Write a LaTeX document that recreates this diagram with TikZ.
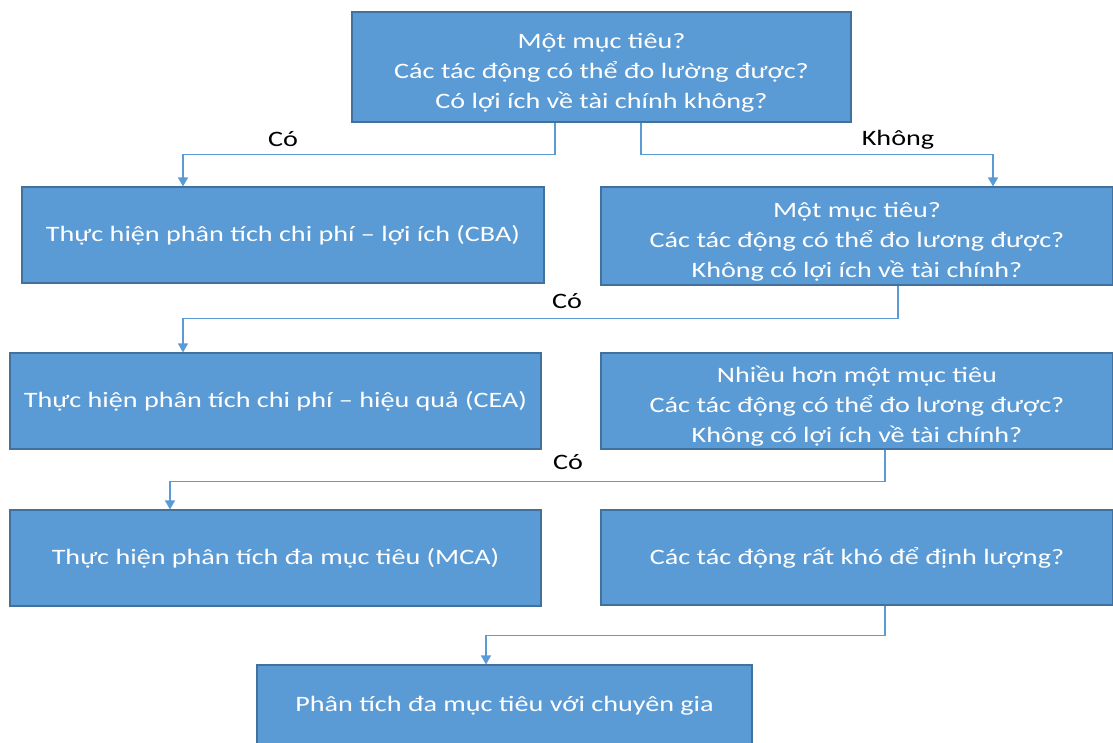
\documentclass[tikz,border=0pt]{standalone}
\usepackage{fontspec}
\setmainfont{Carlito}[FakeStretch=1.28]
\usetikzlibrary{arrows.meta}
\definecolor{boxfill}{HTML}{5B9BD5}
\definecolor{boxline}{HTML}{41719C}
\newcommand\topgap{\rule{0pt}{27pt}}
\tikzset{
  box/.style={rectangle,draw=boxline,line width=1.2pt,fill=boxfill,text=white,
    align=center,inner sep=0pt,font=\fontsize{22}{30}\selectfont},
  link/.style={draw=boxfill,line width=1.3pt,-{Triangle[width=10pt,length=9pt]}},
  answer/.style={font=\fontsize{22}{30}\selectfont,text=black}
}
\begin{document}
\begin{tikzpicture}[x=1pt,y=-1pt]
  \fill[white] (0,0) rectangle (1113,742);
  \clip (0,0) rectangle (1113,742);
%%
  % Node: q1
  \node[box,minimum width=499pt,minimum height=110pt] (q1) at (601.5,67)
    {\topgap Một mục tiêu?\\Các tác động có thể đo lường được?\\Có lợi ích về tài chính không?};
  % Node: cba
  \node[box,minimum width=522pt,minimum height=96pt] (cba) at (283,235)
    {Thực hiện phân tích chi phí – lợi ích (CBA)};
  % Node: q2
  \node[box,minimum width=512pt,minimum height=98pt] (q2) at (857,236)
    {\topgap Một mục tiêu?\\Các tác động có thể đo lương được?\\Không có lợi ích về tài chính?};
  % Node: cea
  \node[box,minimum width=531pt,minimum height=96pt] (cea) at (275.5,401)
    {Thực hiện phân tích chi phí – hiệu quả (CEA)};
  % Node: q3
  \node[box,minimum width=512pt,minimum height=96pt] (q3) at (857,401)
    {\topgap Nhiều hơn một mục tiêu\\Các tác động có thể đo lương được?\\Không có lợi ích về tài chính?};
  % Node: mca
  \node[box,minimum width=531pt,minimum height=96pt] (mca) at (275.5,558)
    {Thực hiện phân tích đa mục tiêu (MCA)};
  % Node: q4
  \node[box,minimum width=512pt,minimum height=95pt] (q4) at (857,557.5)
    {Các tác động rất khó để định lượng?};
  % Node: expert
  \node[box,minimum width=495pt,minimum height=82pt] (expert) at (504.5,706)
    {Phân tích đa mục tiêu với chuyên gia};
%%
  % Edge: q1 -> cba
  \draw[link] ([xshift=-46.5pt]q1.south) -- ++(0,32) -| ([xshift=-100pt]cba.north);
  \node[answer] (yes1) at (283,139) {Có};
  % Edge: q1 -> q2
  \draw[link] ([xshift=39.5pt]q1.south) -- ++(0,32) -| ([xshift=136pt]q2.north);
  \node[answer] (no1) at (898,140) {Không};
  % Edge: q2 -> cea
  \draw[link] ([xshift=41pt]q2.south) -- ++(0,33) -| ([xshift=-92.5pt]cea.north);
  \node[answer] (yes2) at (567,301) {Có};
  % Edge: q3 -> mca
  \draw[link] ([xshift=28pt]q3.south) -- ++(0,32) -| ([xshift=-105.5pt]mca.north);
  \node[answer] (yes3) at (568,462) {Có};
  % Edge: q4 -> expert
  \draw[link] ([xshift=28pt]q4.south) -- ++(0,30) -| ([xshift=-18.5pt]expert.north);
%
\end{tikzpicture}
\end{document}
